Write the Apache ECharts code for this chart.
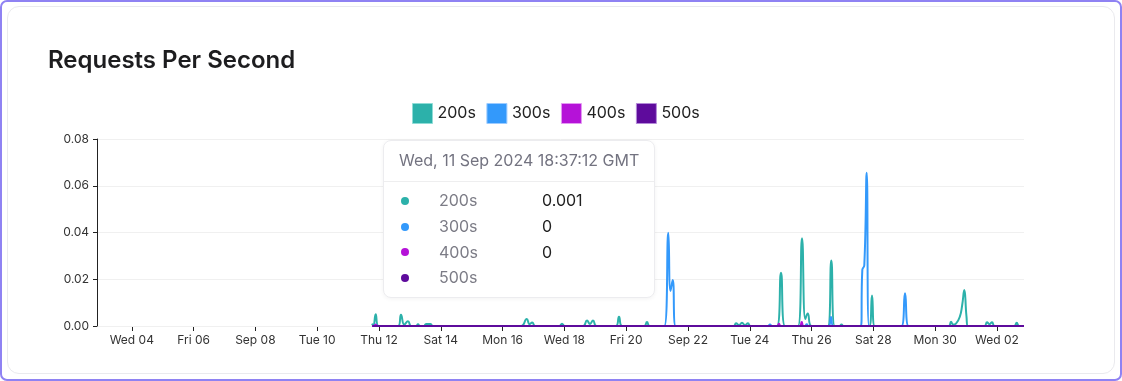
<!DOCTYPE html>
<html>
<head>
<meta charset="utf-8">
<script src="https://cdn.jsdelivr.net/npm/echarts@6/dist/echarts.min.js"></script>
<style>
  html, body { margin: 0; padding: 0; background: #ffffff; }
  #frame { position: absolute; left: 0; top: 0; width: 1122px; height: 381px; box-sizing: border-box;
           border: 2px solid #8f82f3; border-radius: 7px; background: #ffffff; }
  #card { position: absolute; left: 7px; top: 6px; width: 1108px; height: 368px; box-sizing: border-box;
          border: 1px solid #eaeaee; border-radius: 12px; background: #ffffff; }
  #c { position: absolute; left: 0; top: 0; width: 1122px; height: 381px; }
</style>
</head>
<body>
<div id="frame"></div>
<div id="card"></div>
<div id="c"></div>
<script>
// ---------------- data ----------------
const chartTitle = 'Requests Per Second';
const seriesNames = ['200s', '300s', '400s', '500s'];
const seriesColors = ['#2cb1aa', '#3399fb', '#b512d8', '#5e0b9c'];
const legendBorders = ['#8fdcd6', '#9ccbff', '#e39af2', '#b48ad8'];

const xMin = '2024-09-02T21:00Z';
const xMax = '2024-10-02T21:00Z';
const xTicks = ['2024-09-04', '2024-09-06', '2024-09-08', '2024-09-10', '2024-09-12', '2024-09-14',
                '2024-09-16', '2024-09-18', '2024-09-20', '2024-09-22', '2024-09-24', '2024-09-26',
                '2024-09-28', '2024-09-30', '2024-10-02'];
const xTickLabels = ['Wed 04', 'Fri 06', 'Sep 08', 'Tue 10', 'Thu 12', 'Sat 14', 'Mon 16', 'Wed 18',
                     'Fri 20', 'Sep 22', 'Tue 24', 'Thu 26', 'Sat 28', 'Mon 30', 'Wed 02'];
const yMin = 0, yMax = 0.08, yStep = 0.02;

const tooltipTime = '2024-09-11T18:37:12Z';

const s200 = [
  ['2024-09-11T18:37:12Z', 0.001], ['2024-09-11T19:40Z', 0], ['2024-09-11T21:28Z', 0.005], ['2024-09-11T23:40Z', 0],
  ['2024-09-12T14:50Z', 0], ['2024-09-12T17:07Z', 0.0048], ['2024-09-12T19:40Z', 0.0006], ['2024-09-12T22:33Z', 0.002], ['2024-09-13T01:00Z', 0],
  ['2024-09-13T05:00Z', 0], ['2024-09-13T06:19Z', 0.0008], ['2024-09-13T07:40Z', 0],
  ['2024-09-13T11:00Z', 0], ['2024-09-13T12:36Z', 0.0009], ['2024-09-13T16:06Z', 0.0009], ['2024-09-13T17:40Z', 0],
  ['2024-09-16T14:20Z', 0], ['2024-09-16T18:45Z', 0.003], ['2024-09-16T21:00Z', 0.0008], ['2024-09-16T23:00Z', 0.0015], ['2024-09-17T01:20Z', 0],
  ['2024-09-17T20:10Z', 0], ['2024-09-17T22:10Z', 0.001], ['2024-09-18T00:10Z', 0],
  ['2024-09-18T14:30Z', 0], ['2024-09-18T17:35Z', 0.0023], ['2024-09-18T19:55Z', 0.0009], ['2024-09-18T22:15Z', 0.0023], ['2024-09-19T01:00Z', 0],
  ['2024-09-19T16:00Z', 0], ['2024-09-19T18:26Z', 0.004], ['2024-09-19T20:50Z', 0],
  ['2024-09-20T14:00Z', 0], ['2024-09-20T16:10Z', 0.0017], ['2024-09-20T18:20Z', 0],
  ['2024-09-23T11:30Z', 0], ['2024-09-23T13:19Z', 0.0012], ['2024-09-23T15:40Z', 0.0003], ['2024-09-23T17:58Z', 0.0014],
  ['2024-09-23T20:20Z', 0.0003], ['2024-09-23T22:38Z', 0.0012], ['2024-09-24T00:30Z', 0],
  ['2024-09-24T21:10Z', 0], ['2024-09-25T00:16Z', 0.0228], ['2024-09-25T03:20Z', 0],
  ['2024-09-25T13:30Z', 0], ['2024-09-25T16:35Z', 0.0375], ['2024-09-25T19:10Z', 0.003], ['2024-09-25T21:00Z', 0.0054], ['2024-09-26T00:00Z', 0],
  ['2024-09-26T12:40Z', 0], ['2024-09-26T15:20Z', 0.028], ['2024-09-26T18:00Z', 0],
  ['2024-09-26T21:40Z', 0], ['2024-09-26T23:15Z', 0.0006], ['2024-09-27T00:50Z', 0],
  ['2024-09-27T20:50Z', 0], ['2024-09-27T22:57Z', 0.013], ['2024-09-28T01:00Z', 0],
  ['2024-09-30T10:30Z', 0], ['2024-09-30T12:19Z', 0.0018], ['2024-09-30T14:00Z', 0.0006], ['2024-09-30T16:10Z', 0.001],
  ['2024-09-30T19:10Z', 0.004], ['2024-09-30T21:00Z', 0.009], ['2024-09-30T22:38Z', 0.0154], ['2024-10-01T00:20Z', 0.004], ['2024-10-01T01:30Z', 0],
  ['2024-10-01T14:20Z', 0], ['2024-10-01T16:16Z', 0.0016], ['2024-10-01T18:10Z', 0.0008], ['2024-10-01T20:10Z', 0.0016], ['2024-10-01T22:10Z', 0],
  ['2024-10-02T13:30Z', 0], ['2024-10-02T15:20Z', 0.0014], ['2024-10-02T17:10Z', 0], ['2024-10-02T21:00Z', 0]
];

const s300 = [
  ['2024-09-11T18:37:12Z', 0], ['2024-09-11T20:00Z', 0], ['2024-09-11T21:30Z', 0.0006], ['2024-09-11T23:00Z', 0],
  ['2024-09-21T05:40Z', 0], ['2024-09-21T08:44Z', 0.0399], ['2024-09-21T10:26Z', 0.015], ['2024-09-21T12:08Z', 0.0197], ['2024-09-21T14:25Z', 0],
  ['2024-09-24T14:00Z', 0], ['2024-09-24T15:43Z', 0.0006], ['2024-09-24T17:20Z', 0],
  ['2024-09-25T18:40Z', 0], ['2024-09-25T20:14Z', 0.0007], ['2024-09-25T21:50Z', 0],
  ['2024-09-26T13:20Z', 0], ['2024-09-26T15:05Z', 0.0039], ['2024-09-26T16:50Z', 0],
  ['2024-09-27T14:20Z', 0], ['2024-09-27T15:25Z', 0.024], ['2024-09-27T16:58Z', 0.026], ['2024-09-27T18:49Z', 0.0656], ['2024-09-27T20:37Z', 0],
  ['2024-09-28T21:50Z', 0], ['2024-09-29T00:35Z', 0.014], ['2024-09-29T03:20Z', 0],
  ['2024-10-02T21:00Z', 0]
];

const s400 = [
  ['2024-09-11T18:37:12Z', 0], ['2024-09-11T20:00Z', 0], ['2024-09-11T21:30Z', 0.0005], ['2024-09-11T23:00Z', 0],
  ['2024-09-24T21:20Z', 0], ['2024-09-24T22:42Z', 0.001], ['2024-09-25T00:00Z', 0],
  ['2024-09-25T14:50Z', 0], ['2024-09-25T16:21Z', 0.0017], ['2024-09-25T17:50Z', 0],
  ['2024-10-02T21:00Z', 0]
];

const s500 = [
  ['2024-09-11T18:37:12Z', null], ['2024-09-11T18:50Z', 0], ['2024-10-02T21:00Z', 0]
];

// ---------------- chart ----------------
const FONT = 'Inter, "Noto Sans", sans-serif';
const toTs = s => Date.parse(s);
const allSeries = [s200, s300, s400, s500].map(arr => arr.map(p => [toTs(p[0]), p[1]]));
const tickTs = xTicks.map(d => Date.parse(d + 'T00:00:00Z'));

const chart = echarts.init(document.getElementById('c'), null, { renderer: 'canvas' });

function tooltipHtml(params) {
  const t = new Date(params[0].value[0]).toUTCString();
  let rows = '';
  params.forEach(p => {
    const v = p.value[1];
    rows += '<div style="display:flex;align-items:center;height:25.7px;">' +
      '<span style="display:inline-block;width:8px;height:8px;border-radius:50%;background:' + seriesColors[p.seriesIndex] +
      ';margin-left:17px;margin-right:30px;"></span>' +
      '<span style="display:inline-block;width:103px;color:#7c7c86;">' + p.seriesName + '</span>' +
      '<span style="color:#222;">' + (v == null ? '' : String(v)) + '</span></div>';
  });
  return '<div style="width:270px;font-family:' + FONT.replace(/"/g, "'") + ';font-size:16px;">' +
    '<div style="height:40px;line-height:38px;padding-left:15px;color:#737380;border-bottom:1px solid #eeeeef;">' + t + '</div>' +
    '<div style="padding:6px 0 6px 0;">' + rows + '</div></div>';
}

chart.setOption({
  animation: false,
  textStyle: { fontFamily: FONT },
  title: {
    text: chartTitle, left: 43, top: 44,
    textStyle: { fontFamily: FONT, fontSize: 24, fontWeight: 600, color: '#1d1d1f' }
  },
  legend: {
    left: 407, top: 98, itemWidth: 20, itemHeight: 20, itemGap: 10.5, icon: 'rect', selectedMode: false,
    textStyle: { fontFamily: FONT, fontSize: 16, color: '#222' },
    data: seriesNames.map((n, i) => ({ name: n, itemStyle: { color: seriesColors[i], borderColor: legendBorders[i], borderWidth: 1 } }))
  },
  grid: { left: 97, right: 98, top: 139, bottom: 55, outerBoundsMode: 'none' },
  tooltip: {
    trigger: 'axis', triggerOn: 'none', alwaysShowContent: true, transitionDuration: 0,
    position: [383, 140], padding: 0, backgroundColor: '#ffffff', borderColor: '#ececef', borderWidth: 1,
    extraCssText: 'border-radius:8px;box-shadow:0 1px 4px rgba(0,0,0,0.05);',
    axisPointer: { type: 'line', lineStyle: { opacity: 0 } },
    formatter: tooltipHtml
  },
  xAxis: {
    type: 'value', min: toTs(xMin), max: toTs(xMax),
    axisLine: { show: false },
    axisTick: { show: true, customValues: tickTs, length: 5, lineStyle: { color: '#222' } },
    axisLabel: {
      customValues: tickTs, color: '#333', fontSize: 12, fontFamily: FONT, margin: 8,
      formatter: v => { const i = tickTs.indexOf(v); return i >= 0 ? xTickLabels[i] : ''; }
    },
    splitLine: { show: false }
  },
  yAxis: {
    type: 'value', min: yMin, max: yMax, interval: yStep, z: 3,
    axisLine: { show: true, lineStyle: { color: '#222' } },
    axisTick: { show: true, length: 4, lineStyle: { color: '#222' } },
    axisLabel: { color: '#333', fontSize: 12, fontFamily: FONT, formatter: v => v.toFixed(2) },
    splitLine: { show: true, lineStyle: { color: '#f0f0f0', width: 1 } }
  },
  series: seriesNames.map((n, i) => ({
    name: n, type: 'line', data: allSeries[i], smooth: true, symbol: 'none', showSymbol: false,
    lineStyle: { width: 2, color: seriesColors[i] }, itemStyle: { color: seriesColors[i] },
    emphasis: { disabled: true }
  }))
});

const px = chart.convertToPixel({ xAxisIndex: 0, yAxisIndex: 0 }, [toTs(tooltipTime), 0.01]);
chart.dispatchAction({ type: 'showTip', x: px[0], y: px[1] });
</script>
</body>
</html>
